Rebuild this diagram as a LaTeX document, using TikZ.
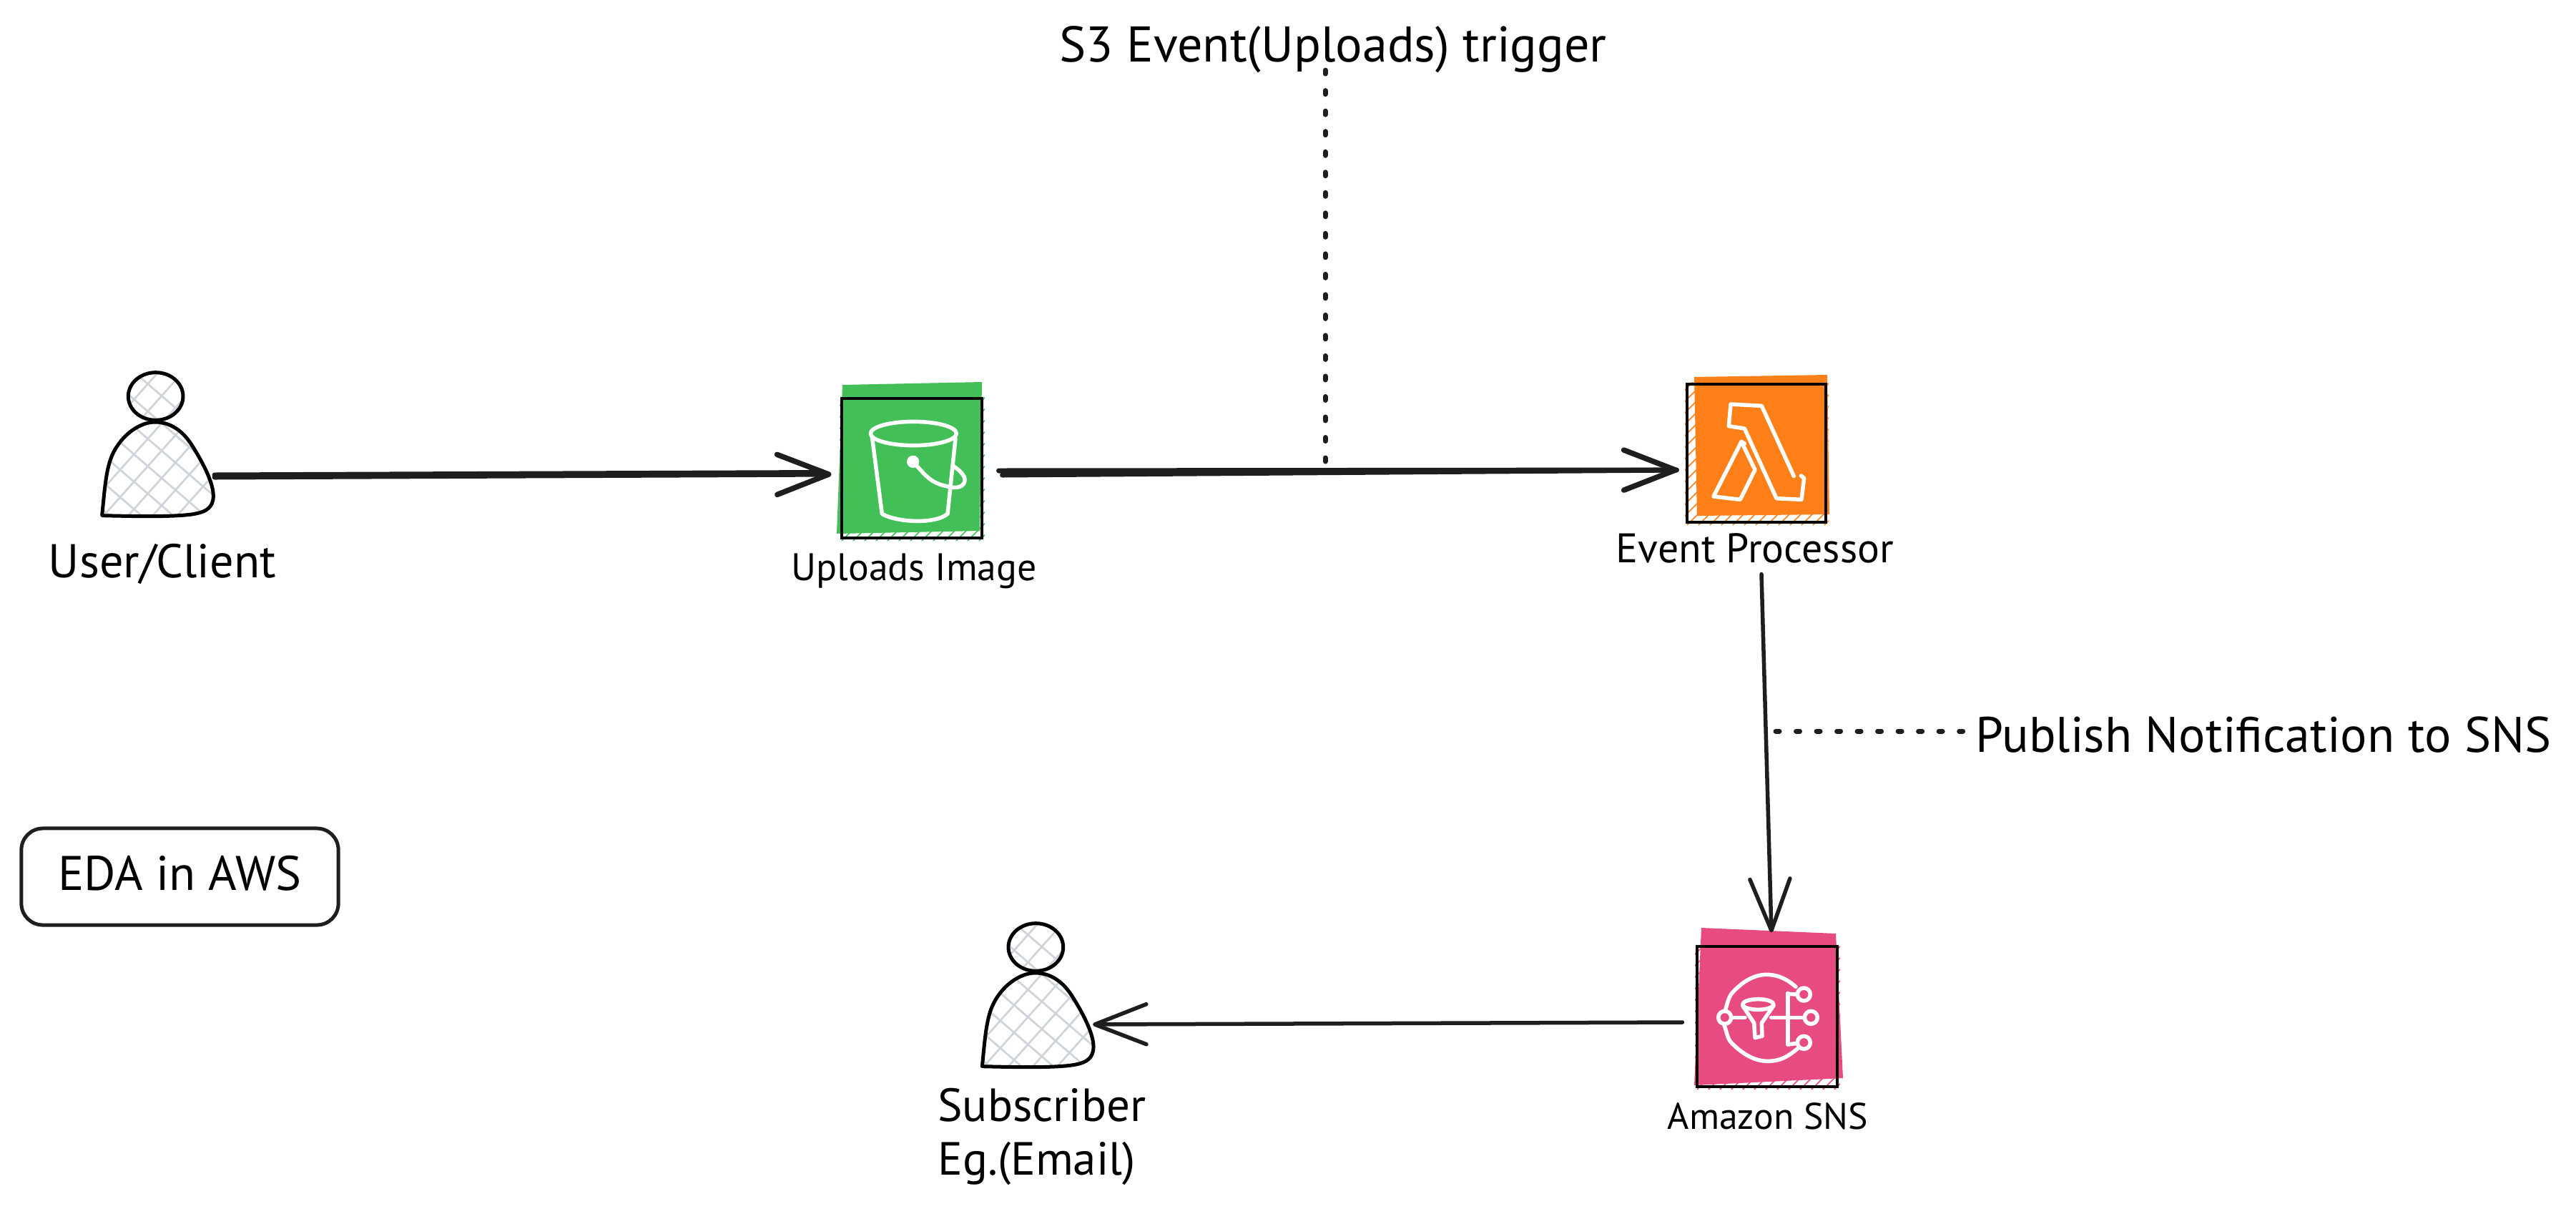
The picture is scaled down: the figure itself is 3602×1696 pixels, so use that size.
\documentclass[tikz,border=0pt]{standalone}
\usepackage{fontspec}
\setmainfont{PT Sans}
\usetikzlibrary{arrows.meta}
\definecolor{ink}{HTML}{1E1E1E}
\definecolor{gridgrey}{HTML}{CED4DA}
\definecolor{sgreen}{HTML}{43BF57}
\definecolor{lorange}{HTML}{FF7F18}
\definecolor{spink}{HTML}{E74B81}
\tikzset{
  every node/.style={inner sep=0pt,outer sep=0pt,text=black},
  iconanchor/.style={rectangle,minimum width=1.95cm,minimum height=1.95cm},
  personanchor/.style={rectangle,minimum width=1.56cm,minimum height=1.31cm},
  heavy/.style={draw=ink,line width=0.07cm,line cap=round},
  thinconn/.style={draw=ink,line width=0.055cm,line cap=round},
  headtip/.style={-{Straight Barb[length=0.72cm,width=0.56cm,line width=0.055cm,round]}},
  heavytip/.style={-{Straight Barb[length=0.72cm,width=0.56cm,line width=0.075cm,round]}},
  dotline/.style={draw=ink,line width=0.07cm,line cap=round,dash pattern=on 0.05cm off 0.235cm},
  iconline/.style={draw=white,line width=0.055cm,line cap=round,line join=round},
  frameline/.style={draw=black,line width=0.045cm},
  personline/.style={draw=black,line width=0.05cm,line join=round},
  gridline/.style={draw=gridgrey,line width=0.027cm},
}
\newcommand{\gridlines}[1]{%
  \foreach \k in {-#1,...,#1}{
    \draw[gridline] ({620+\k*58-600},{515-\k*65-517}) -- ({620+\k*58+600},{515-\k*65+517});
    \draw[gridline] ({620+\k*58-500},{515+\k*50+560}) -- ({620+\k*58+500},{515+\k*50-560});
  }}
\newcommand{\personfig}[2]{%
  \begin{scope}[shift={(#1,#2)},scale=1/3]
    \def\bodypath{(428,722) .. controls (440,600) and (445,530) .. (470,470) .. controls (510,380) and (590,330) .. (650,330) .. controls (730,330) and (780,385) .. (810,435) .. controls (860,515) and (895,590) .. (895,640) .. controls (895,690) and (860,705) .. (830,712) .. controls (760,730) and (560,725) .. cycle}
    \begin{scope}
      \clip (653,222) ellipse [x radius=115,y radius=100];
      \gridlines{7}
    \end{scope}
    \begin{scope}
      \clip \bodypath;
      \gridlines{7}
    \end{scope}
    \draw[personline] (653,222) ellipse [x radius=115,y radius=100];
    \draw[personline] \bodypath;
  \end{scope}}
\newcommand{\hatchbox}[5]{%
  \begin{scope}
    \clip ({#2-3},{#3-3}) rectangle ({#4+4},{#5+4});
    \foreach \k in {-14,...,14}{
      \draw[#1,line width=0.015cm] ({#2+\k*16},{#5+4}) -- ({#2+\k*16+#5-#3+7},{#3-3});
    }
  \end{scope}}
\newcommand{\fitted}[2]{\resizebox{#1}{!}{#2}}
\begin{document}
\begin{tikzpicture}[x=0.01cm,y=-0.01cm]
\useasboundingbox (0,0) rectangle (3602,1696);
\fill[white] (0,0) rectangle (3602,1696);

% people
\personfig{0}{480}
\personfig{1230.7}{1250}
\node[personanchor] (user) at (220,655) {};
\node[personanchor] (sub) at (1451,1425) {};

% S3 icon
\hatchbox{sgreen}{1177}{557}{1373}{752}
\fill[sgreen] (1178,538) -- (1373,534) -- (1370,742) -- (1170,746) -- cycle;
\begin{scope}[shift={(1080,500)},scale=1/3]
  \draw[iconline] (592,318) ellipse [x radius=180,y radius=50];
  \draw[iconline] (418,330) -- (460,655) .. controls (520,690) and (680,700) .. (735,655) -- (768,340);
  \fill[white] (590,436) circle [radius=26];
  \draw[iconline] (590,436) .. controls (640,490) and (660,525) .. (735,540) .. controls (790,555) and (815,530) .. (805,500) .. controls (795,480) and (775,465) .. (760,455);
\end{scope}
\node[iconanchor] (s3) at (1275,654.5) {};
\draw[frameline] (1177,557) rectangle (1373,752);

% Lambda icon
\hatchbox{lorange}{2359}{537}{2553}{730}
\fill[lorange] (2369,527) -- (2555,524) -- (2558,719) -- (2373,721) -- cycle;
\begin{scope}[shift={(2300,500)},scale=1/3]
  \draw[iconline] (625,497) -- (490,202) -- (360,195) -- (352,287) -- (418,297) -- (552,590) -- (657,595) -- (668,505) -- (655,495);
  \draw[iconline] (418,360) -- (405,352) -- (288,582) -- (400,595) -- (462,470) -- (405,352);
\end{scope}
\node[iconanchor] (lambda) at (2456,633.5) {};
\draw[frameline] (2359,537) rectangle (2553,730);

% SNS icon
\hatchbox{spink}{2373}{1323}{2569}{1519}
\fill[spink] (2379,1297) -- (2567,1305) -- (2577,1507) -- (2369,1517) -- cycle;
\begin{scope}[shift={(2300,1260)},scale=1/3]
  \draw[iconline] (633,358) .. controls (590,320) and (550,307) .. (510,307) .. controls (460,307) and (410,335) .. (365,385) .. controls (350,405) and (345,430) .. (337,458);
  \draw[iconline] (333,520) .. controls (345,550) and (345,575) .. (365,595) .. controls (410,640) and (460,670) .. (515,670) .. controls (570,670) and (600,650) .. (640,618);
  \draw[iconline] (335,487) circle [radius=27];
  \draw[iconline] (667,390) circle [radius=27];
  \draw[iconline] (697,487) circle [radius=27];
  \draw[iconline] (667,592) circle [radius=27];
  \draw[iconline] (365,487) -- (420,487);
  \draw[iconline] (530,487) -- (665,487);
  \draw[iconline] (600,385) -- (600,600);
  \draw[iconline] (600,388) -- (638,390);
  \draw[iconline] (600,600) -- (638,595);
  \draw[iconline] (475,432) ellipse [x radius=65,y radius=22];
  \draw[iconline] (410,437) -- (458,510) -- (462,572) -- (492,565) -- (490,510) -- (540,437);
\end{scope}
\node[iconanchor] (sns) at (2471,1421) {};
\draw[frameline] (2373,1323) rectangle (2569,1519);

% labels
\node (userlab) at (227,789) {\fitted{3.18cm}{User/Client}};
\node (s3lab) at (1278,798) {\fitted{3.43cm}{Uploads Image}};
\node (lambdalab) at (2454,766) {\fitted{3.88cm}{Event Processor}};
\node (snslab) at (2472,1560) {\fitted{2.8cm}{Amazon SNS}};
\node (sublab) at (1457,1590) {\fitted{2.91cm}{\fontsize{20}{23}\selectfont\begin{tabular}{@{}l@{}}Subscriber\\Eg.(Email)\end{tabular}}};
\node (trig) at (1864,69) {\fitted{7.65cm}{S3 Event(Uploads) trigger}};
\node (pub) at (3165,1027) {\fitted{8.04cm}{Publish Notification to SNS}};
\node[draw=ink,line width=0.05cm,rounded corners=0.3cm,minimum width=4.43cm,minimum height=1.35cm,text depth=0.1cm] (eda) at (251.5,1225.5) {\fitted{3.4cm}{EDA in AWS}};

% connectors
\draw[heavy] ([shift={(2,9)}]user.east) -- ([shift={(-30,6)}]s3.west);
\draw[heavy,heavytip] ([shift={(2,12)}]user.east) -- ([shift={(-15,8.5)}]s3.west);
\draw[heavy] ([shift={(29,9.5)}]s3.east) -- ([shift={(-14,23.5)}]lambda.west);
\draw[heavy,heavytip] ([shift={(24,3.5)}]s3.east) -- ([shift={(-12,23.5)}]lambda.west);
\draw[thinconn,headtip] ([shift={(7,71.5)}]lambda.south) -- ([shift={(6,-20)}]sns.north);
\draw[thinconn,headtip] ([shift={(-21,8)}]sns.west) -- ([shift={(-1,7)}]sub.east);
\coordinate (trigfoot) at (1853,650);
\coordinate (pubstart) at (2483,1022);
\draw[dotline] ([yshift=0.035cm]trig.south -| trigfoot) -- (trigfoot);
\draw[dotline] (pubstart) -- (pubstart -| pub.west);
\end{tikzpicture}
\end{document}
